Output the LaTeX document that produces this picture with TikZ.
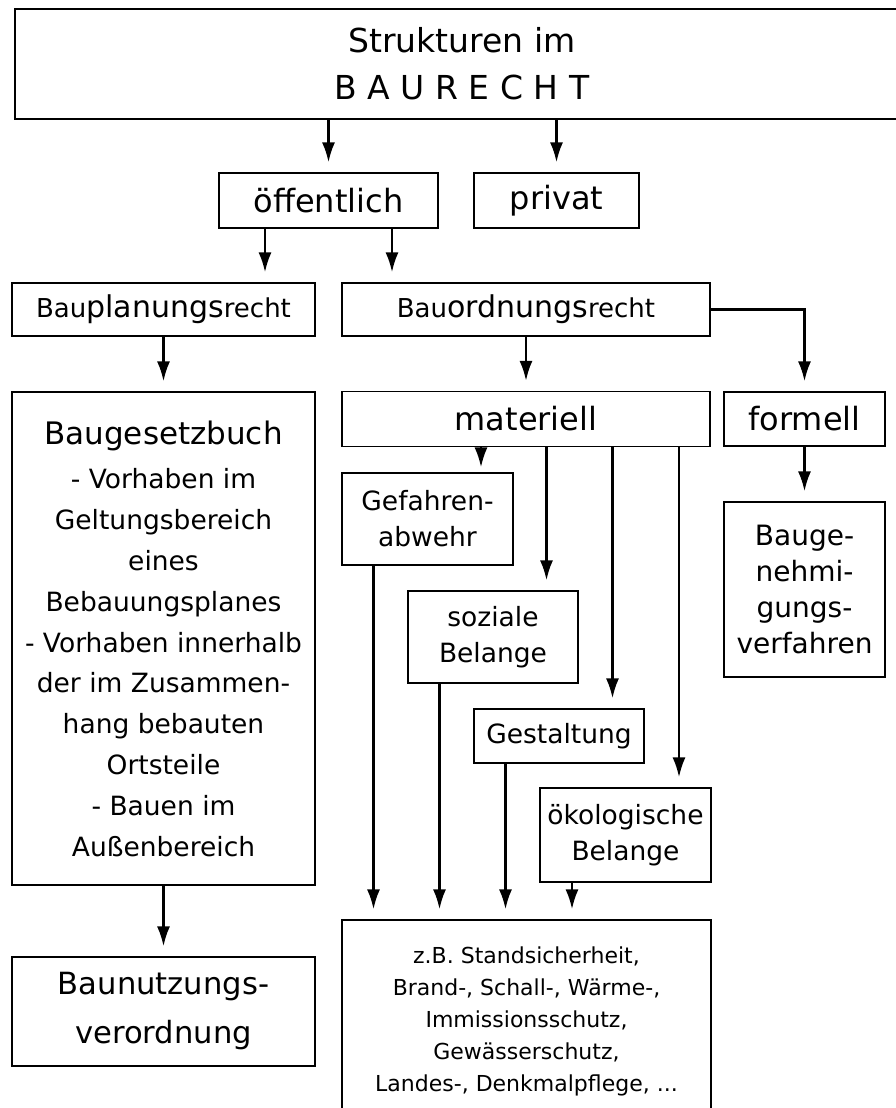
\documentclass[tikz,border=0pt]{standalone}
\usepackage{fontspec}
\setmainfont{DejaVu Sans}
\usepackage{tikz}
\usetikzlibrary{arrows.meta,positioning,calc}
\tikzstyle{block} = [draw, fill=white, rectangle, line width=1.1pt,
inner sep=0pt, align=center]
\tikzstyle{pfeil} = [->, line width=2.6pt, shorten >=10pt]
\newcommand{\gross}{\fontsize{32}{38}\selectfont}
\newcommand{\mittel}{\fontsize{26.5}{36}\selectfont}
\newcommand{\klein}{\fontsize{22}{32}\selectfont}
\newcommand{\duenn}[1]{{\fontsize{26}{30}\selectfont #1}}

\begin{document}
\begin{tikzpicture}[auto, x=1pt, y=-1pt, >={Latex[length=20pt,width=13pt]}]
	\useasboundingbox (0,0) rectangle (895,1108);
	\node [block, minimum width=894pt, minimum height=110pt, font=\fontsize{33}{47}\selectfont] (Titel) at (462,64) {Strukturen im\\B A U R E C H T};
	\node [block, minimum width=219pt, minimum height=55pt, font=\gross] (Oeff) at (328.5,200.5) {öffentlich};
	\node [block, minimum width=165pt, minimum height=55pt, font=\gross] (Privat) at (556.5,200.5) {privat};
	\node [block, minimum width=303pt, minimum height=53pt, font=\fontsize{30}{34}\selectfont] (Planung) at (163.5,309.5) {\duenn{Bau}planungs\duenn{recht}};
	\node [block, minimum width=368pt, minimum height=53pt, font=\fontsize{30}{34}\selectfont] (Ordnung) at (526,309.5) {\duenn{Bau}ordnungs\duenn{recht}};
	\node [block, minimum width=303pt, minimum height=493pt, font=\fontsize{26.5}{40.8}\selectfont] (BauGB) at (163.5,638.5) {{\fontsize{31}{40.8}\selectfont Baugesetzbuch}\\[4pt]- Vorhaben im\\Geltungsbereich\\eines\\Bebauungsplanes\\- Vorhaben innerhalb\\der im Zusammen-\\hang bebauten\\Ortsteile\\- Bauen im\\Außenbereich};
	\node [block, minimum width=368pt, minimum height=55pt, font=\gross] (Materiell) at (526,419) {materiell};
	\node [block, minimum width=161pt, minimum height=54pt, font=\gross] (Formell) at (804.5,419) {formell};
	\node [block, minimum width=161pt, minimum height=175pt, font=\fontsize{28}{36}\selectfont] (Genehmigung) at (804.5,589.5) {Bauge-\\nehmi-\\gungs-\\verfahren};
	\node [block, minimum width=303pt, minimum height=109pt, font=\fontsize{30.6}{49}\selectfont] (BauNVO) at (163.5,1011.5) {Baunutzungs-\\verordnung};
	\node [block, minimum width=171pt, minimum height=92pt, font=\mittel] (Gefahr) at (427.5,519) {Gefahren-\\abwehr};
	\node [block, minimum width=170pt, minimum height=92pt, font=\mittel] (Sozial) at (493,637) {soziale\\Belange};
	\node [block, minimum width=170pt, minimum height=54pt, font=\mittel] (Gestalt) at (559,736) {Gestaltung};
	\node [block, minimum width=171pt, minimum height=94pt, font=\mittel] (Oeko) at (625.5,835) {ökologische\\Belange};
	\node [block, minimum width=369pt, minimum height=202pt, font=\klein] (Beispiele) at (526.5,1021) {z.B. Standsicherheit,\\Brand-, Schall-, Wärme-,\\Immissionsschutz,\\Gewässerschutz,\\Landes-, Denkmalpflege, ...};
	
	\draw [pfeil] (Titel.south -| Oeff.north) -- (Oeff.north);
	\draw [pfeil] (Titel.south -| Privat.north) -- (Privat.north);
	\coordinate (OeffL) at ([xshift=-63.5pt]Oeff.south);
	\coordinate (OeffR) at ([xshift=63.5pt]Oeff.south);
	\draw [pfeil] (OeffL) -- (OeffL |- Planung.north);
	\draw [pfeil] (OeffR) -- (OeffR |- Ordnung.north);
	\draw [pfeil] (Planung) -- (BauGB);
	\draw [pfeil] (BauGB) -- (BauNVO);
	\draw [pfeil] (Ordnung) -- (Materiell);
	\draw [pfeil] (Ordnung.east) -| (Formell.north);
	\draw [pfeil] (Formell) -- (Genehmigung);
	
	\coordinate (GefahrIn) at ([xshift=53.5pt]Gefahr.north);
	\coordinate (SozialIn) at ([xshift=53.5pt]Sozial.north);
	\coordinate (GestaltIn) at ([xshift=53.5pt]Gestalt.north);
	\coordinate (OekoIn) at ([xshift=53.5pt]Oeko.north);
	\draw [pfeil, shorten >=5pt] (Materiell.south -| GefahrIn) -- (GefahrIn);
	\draw [pfeil] (Materiell.south -| SozialIn) -- (SozialIn);
	\draw [pfeil] (Materiell.south -| GestaltIn) -- (GestaltIn);
	\draw [pfeil] (Materiell.south -| OekoIn) -- (OekoIn);
	
	\coordinate (GefahrOut) at ([xshift=-54pt]Gefahr.south);
	\coordinate (SozialOut) at ([xshift=-53.5pt]Sozial.south);
	\coordinate (GestaltOut) at ([xshift=-53.5pt]Gestalt.south);
	\coordinate (OekoOut) at ([xshift=-53.5pt]Oeko.south);
	\draw [pfeil] (GefahrOut) -- (GefahrOut |- Beispiele.north);
	\draw [pfeil] (SozialOut) -- (SozialOut |- Beispiele.north);
	\draw [pfeil] (GestaltOut) -- (GestaltOut |- Beispiele.north);
	\draw [pfeil] (OekoOut) -- (OekoOut |- Beispiele.north);
	
\end{tikzpicture}
\end{document}
